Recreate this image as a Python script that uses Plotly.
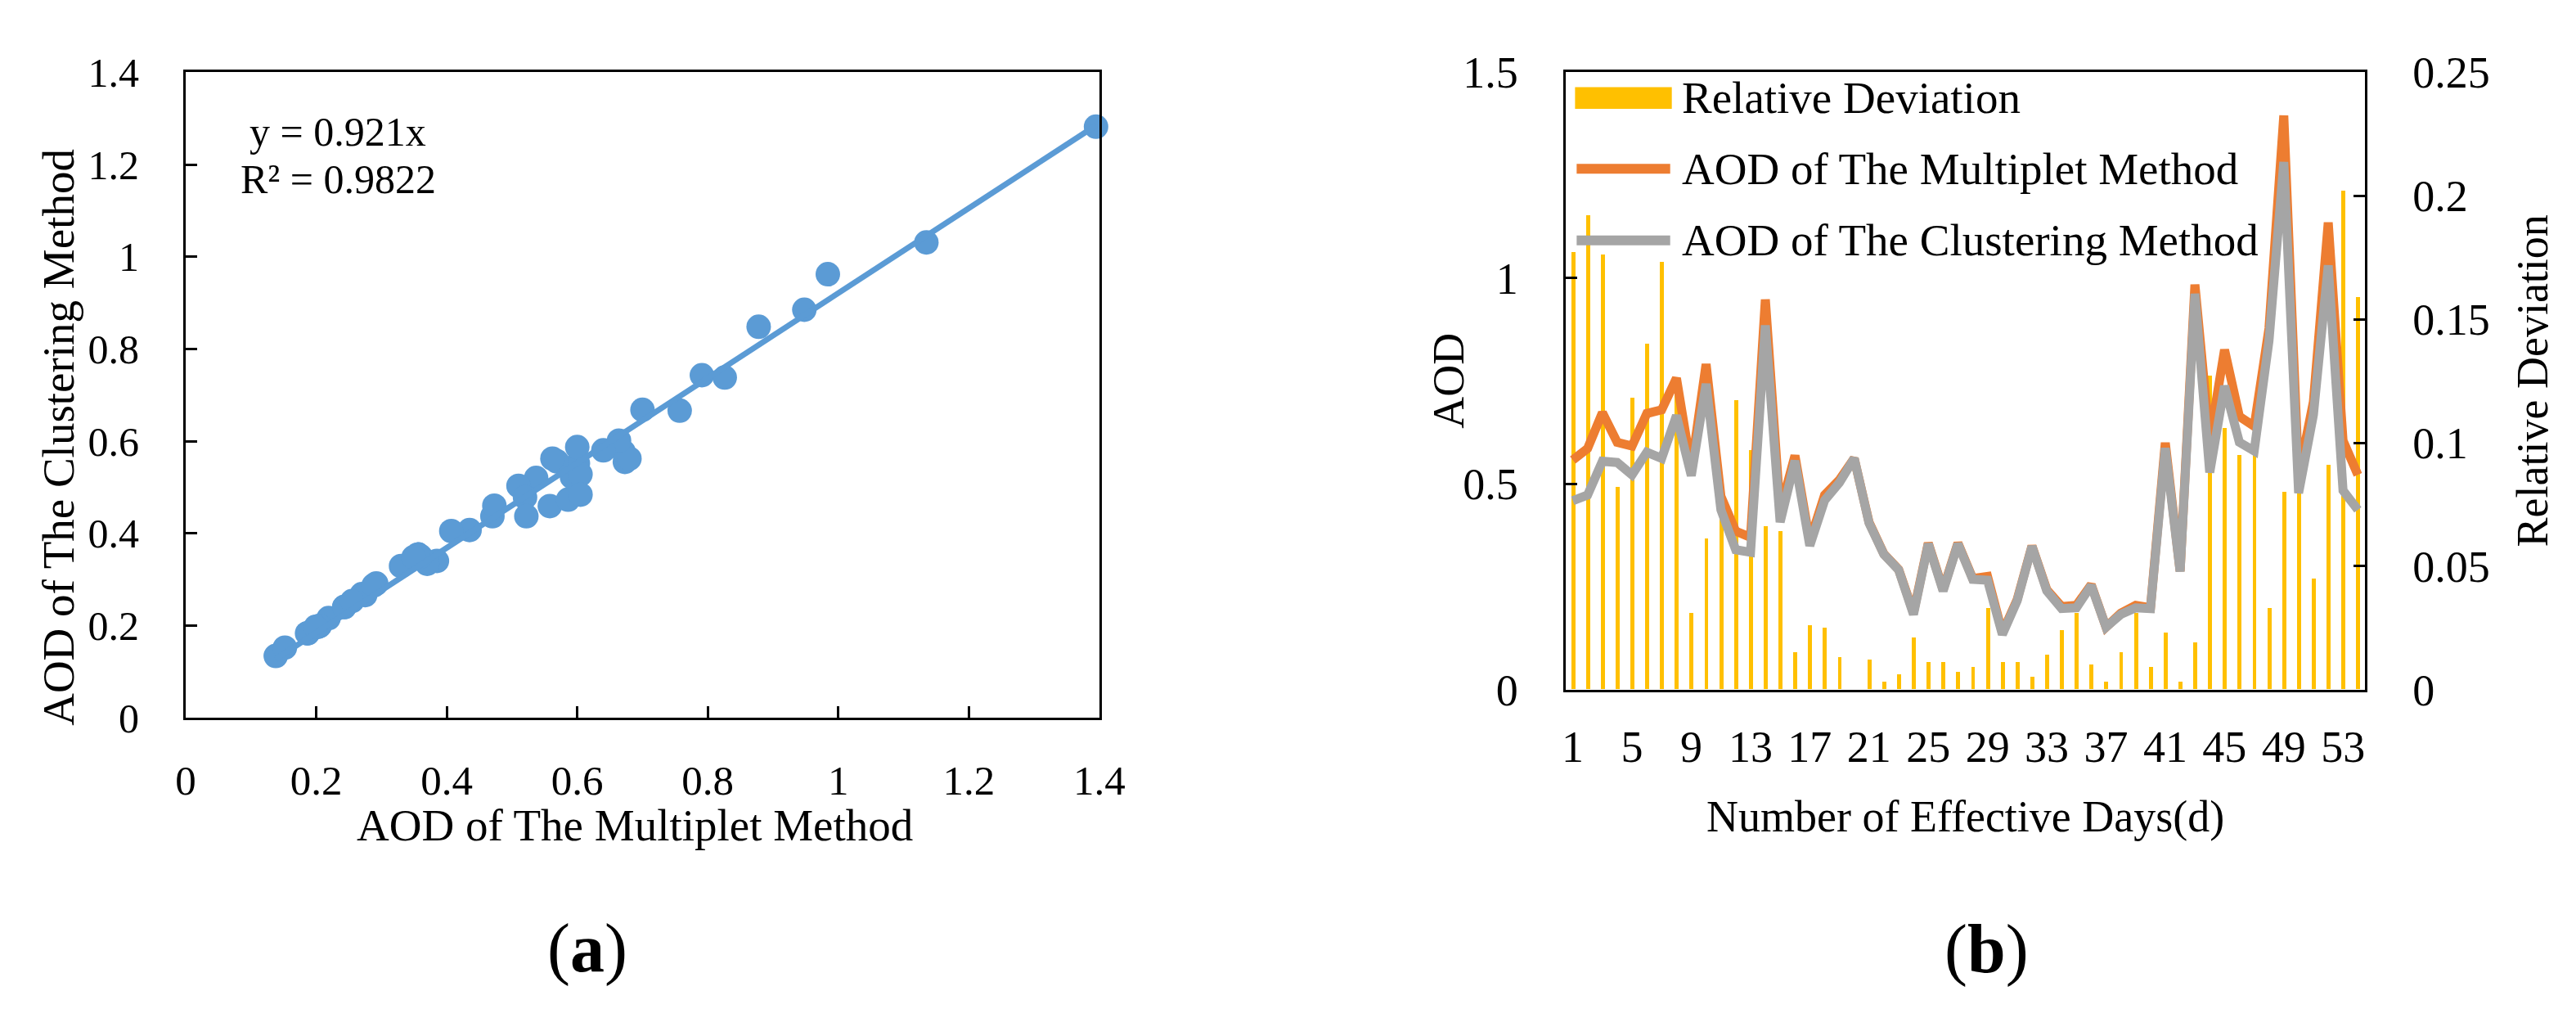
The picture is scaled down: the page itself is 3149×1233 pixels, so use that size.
import plotly.graph_objects as go

W, H = 3149, 1233
FONT = "Liberation Serif, Times New Roman, serif"

# ---------------- data ----------------
days = list(range(1, 55))
day_ticks = [1, 5, 9, 13, 17, 21, 25, 29, 33, 37, 41, 45, 49, 53]

aod_multiplet = [
    0.558, 0.586, 0.673, 0.601, 0.592, 0.671, 0.680, 0.757, 0.537, 0.791,
    0.470, 0.385, 0.370, 0.948, 0.435, 0.569, 0.360, 0.473, 0.510, 0.562,
    0.407, 0.330, 0.292, 0.187, 0.356, 0.243, 0.356, 0.270, 0.275, 0.138,
    0.219, 0.349, 0.243, 0.202, 0.205, 0.255, 0.152, 0.186, 0.205, 0.199,
    0.600, 0.288, 0.984, 0.605, 0.826, 0.664, 0.640, 0.878, 1.395, 0.520,
    0.700, 1.135, 0.605, 0.522,
]
aod_clustering = [
    0.459, 0.473, 0.555, 0.552, 0.522, 0.577, 0.562, 0.666, 0.520, 0.743,
    0.437, 0.340, 0.334, 0.885, 0.407, 0.556, 0.350, 0.460, 0.503, 0.562,
    0.405, 0.329, 0.291, 0.183, 0.354, 0.240, 0.354, 0.268, 0.266, 0.134,
    0.216, 0.348, 0.240, 0.197, 0.199, 0.253, 0.152, 0.183, 0.199, 0.197,
    0.587, 0.287, 0.962, 0.528, 0.738, 0.601, 0.580, 0.848, 1.282, 0.478,
    0.668, 1.031, 0.484, 0.437,
]
relative_deviation = [
    0.177, 0.192, 0.176, 0.082, 0.118, 0.140, 0.173, 0.120, 0.031, 0.061,
    0.070, 0.117, 0.097, 0.066, 0.064, 0.015, 0.026, 0.025, 0.013, 0.000,
    0.012, 0.003, 0.006, 0.021, 0.011, 0.011, 0.007, 0.009, 0.033, 0.011,
    0.011, 0.005, 0.014, 0.024, 0.031, 0.010, 0.003, 0.015, 0.031, 0.009,
    0.023, 0.003, 0.019, 0.127, 0.106, 0.095, 0.095, 0.033, 0.080, 0.080,
    0.045, 0.091, 0.202, 0.159,
]
trend_slope = 0.921
trend_r2 = 0.9822

BLUE = "#5B9BD5"
ORANGE = "#ED7D31"
GRAY = "#A5A5A5"
GOLD = "#FFC000"


def px(x):
    return x / W


def py(y):
    return 1 - y / H


fig = go.Figure()

# ---------------- panel (a) ----------------
fig.add_trace(go.Scatter(
    x=aod_multiplet, y=aod_clustering, mode="markers",
    marker=dict(color=BLUE, size=30, line=dict(width=0)),
    xaxis="x", yaxis="y", showlegend=False, cliponaxis=False))
tx = [min(aod_multiplet), max(aod_multiplet)]
fig.add_trace(go.Scatter(
    x=tx, y=[trend_slope * v for v in tx], mode="lines",
    line=dict(color=BLUE, width=7),
    xaxis="x", yaxis="y", showlegend=False, cliponaxis=False))

# ---------------- panel (b) ----------------
fig.add_trace(go.Bar(
    x=days, y=relative_deviation, width=0.27,
    marker=dict(color=GOLD, line=dict(width=0)),
    xaxis="x2", yaxis="y2", showlegend=False))
fig.add_trace(go.Scatter(
    x=days, y=aod_multiplet, mode="lines",
    line=dict(color=ORANGE, width=11),
    xaxis="x2", yaxis="y3", showlegend=False))
fig.add_trace(go.Scatter(
    x=days, y=aod_clustering, mode="lines",
    line=dict(color=GRAY, width=11),
    xaxis="x2", yaxis="y3", showlegend=False))

axis_common = dict(
    showline=True, linecolor="black", linewidth=3, mirror=True,
    showgrid=False, zeroline=False, ticks="inside", ticklen=14,
    tickwidth=3, tickcolor="black",
)

fig.update_layout(
    width=W, height=H,
    margin=dict(l=0, r=0, t=0, b=0),
    paper_bgcolor="white", plot_bgcolor="white",
    font=dict(family=FONT, color="black"),
    bargap=0,
    xaxis=dict(domain=[px(209), px(1342)], range=[0, 1.4], dtick=0.2,
               tick0=0, anchor="y", tickfont=dict(size=51),
               ticklabelstandoff=30, **axis_common),
    yaxis=dict(domain=[py(883), py(54)], range=[0, 1.4], dtick=0.2,
               tick0=0, anchor="x", tickfont=dict(size=50),
               ticklabelstandoff=44, **axis_common),
    xaxis2=dict(domain=[px(1920), px(2912)], range=[0.5, 54.5],
                tickmode="array", tickvals=day_ticks,
                ticktext=[str(v) for v in day_ticks],
                anchor="y2", tickfont=dict(size=54),
                showline=True, linecolor="black", linewidth=3, mirror=True,
                showgrid=False, zeroline=False, ticks="",
                ticklabelstandoff=20),
    yaxis2=dict(domain=[py(847), py(54)], range=[0, 0.25], dtick=0.05,
                tick0=0, side="right", anchor="x2",
                tickfont=dict(size=54), ticklabelstandoff=44,
                **axis_common),
    yaxis3=dict(domain=[py(847), py(54)], range=[0, 1.5], dtick=0.5,
                tick0=0, side="left", overlaying="y2", anchor="x2",
                tickfont=dict(size=54), ticklabelstandoff=44,
                **axis_common),
)

ann = []


def text(x, y, s, size, angle=0, xanchor="center"):
    ann.append(dict(x=px(x), y=py(y), xref="paper", yref="paper", text=s,
                    showarrow=False, font=dict(size=size, family=FONT,
                                               color="black"),
                    textangle=angle, xanchor=xanchor, yanchor="middle"))


# panel (a) texts
text(398, 130, f"y = {trend_slope}x", 50)
text(398, 191, f"R² = {trend_r2}", 50)
text(766, 1021, "AOD of The Multiplet Method", 55)
text(51, 523, "AOD of The Clustering Method", 55, angle=-90)
text(707, 1179, "(<b>a</b>)", 84)

# panel (b) texts
text(1775, 450, "AOD", 54, angle=-90)
text(3120, 450, "Relative Deviation", 54, angle=-90)
text(2416, 1010, "Number of Effective Days(d)", 54)
text(2442, 1180, "(<b>b</b>)", 84)

# manual legend for panel (b)
legend_items = [
    ("Relative Deviation", GOLD, "bar", 87),
    ("AOD of The Multiplet Method", ORANGE, "line", 178),
    ("AOD of The Clustering Method", GRAY, "line", 270),
]
shapes = []
for label, color, kind, yc in legend_items:
    if kind == "bar":
        shapes.append(dict(type="rect", xref="paper", yref="paper",
                           x0=px(1932), x1=px(2052), y0=py(yc + 14),
                           y1=py(yc - 14), fillcolor=color,
                           line=dict(width=0)))
    else:
        shapes.append(dict(type="line", xref="paper", yref="paper",
                           x0=px(1934), x1=px(2050), y0=py(yc), y1=py(yc),
                           line=dict(color=color, width=12)))
    text(2062, yc, label, 55, xanchor="left")

fig.update_layout(annotations=ann, shapes=shapes)

fig.write_html("out.html")
